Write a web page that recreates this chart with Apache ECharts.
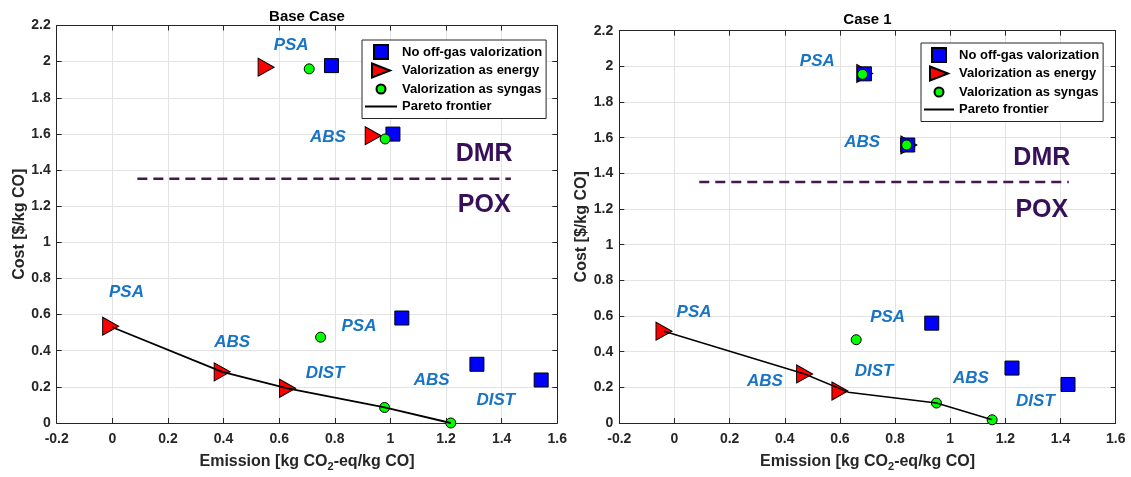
<!DOCTYPE html>
<html>
<head>
<meta charset="utf-8">
<script src="https://cdn.jsdelivr.net/npm/echarts@6/dist/echarts.min.js"></script>
<style>
html,body{margin:0;padding:0;background:#fff;}
#chart{width:1131px;height:477px;}
</style>
</head>
<body>
<div id="chart"></div>
<script>
// ---- axis ranges / ticks ----
const X_AXIS = [-0.2, 1.6, 0.2];   // min, max, interval
const Y_AXIS = [0, 2.2, 0.2];

// ---- Base Case ----
const baseNoOffgas = [[0.788,1.978],[1.009,1.599],[1.041,0.581],[1.311,0.325],[1.542,0.238]];
const baseEnergy   = [[0.553,1.969],[0.938,1.590],[-0.006,0.536],[0.395,0.283],[0.630,0.192]];
const baseSyngas   = [[0.708,1.960],[0.981,1.572],[0.749,0.475],[0.979,0.086],[1.217,0.000]];
const basePareto   = [[0.000,0.530],[0.395,0.283],[0.630,0.192],[0.979,0.086],[1.217,0.000]];
const baseLabels   = [['PSA',0.643,2.088],['ABS',0.775,1.581],['PSA',0.051,0.722],['ABS',0.431,0.444],
                      ['DIST',0.765,0.274],['PSA',0.887,0.534],['ABS',1.148,0.238],['DIST',1.379,0.128]];
const baseDivider  = [[0.09,1.352],[1.433,1.352]];
const baseRegions  = [['DMR',1.337,1.489],['POX',1.337,1.206]];

// ---- Case 1 ----
const c1NoOffgas = [[0.689,1.958],[0.846,1.559],[0.933,0.560],[1.224,0.308],[1.427,0.216]];
const c1Energy   = [[0.690,1.960],[0.850,1.559],[-0.038,0.515],[0.472,0.275],[0.600,0.179]];
const c1Syngas   = [[0.682,1.955],[0.842,1.559],[0.659,0.467],[0.950,0.112],[1.152,0.018]];
const c1Pareto   = [[-0.038,0.515],[0.472,0.275],[0.630,0.173],[0.950,0.112],[1.152,0.018]];
const c1Labels   = [['PSA',0.518,2.027],['ABS',0.681,1.574],['PSA',0.071,0.623],['ABS',0.328,0.234],
                    ['DIST',0.724,0.289],['PSA',0.773,0.592],['ABS',1.075,0.253],['DIST',1.309,0.119]];
const c1Divider  = [[0.09,1.352],[1.430,1.352]];
const c1Regions  = [['DMR',1.332,1.484],['POX',1.332,1.196]];

const titles = ['Base Case', 'Case 1'];
const names = ['No off-gas valorization','Valorization as energy','Valorization as syngas','Pareto frontier'];

const FONT = 'Liberation Sans, Arial, sans-serif';
const AX = '#262626';
const TRI = 'path://M0,0L1,0.5L0,1Z';
const SQ_LEG = 'path://M0,0L14,0L14,14L0,14Z';
const TRI_LEG = 'path://M0,0L18,7L0,14Z';
const CIRC_LEG = 'path://M0,0M14,14M7,2.5A4.5,4.5,0,1,1,7,11.5A4.5,4.5,0,1,1,7,2.5Z';

const grids = [
  {left:56.7, top:25.5, width:500.6, height:402.8},
  {left:619.3, top:30.7, width:496.4, height:398.3}
];

function xAxes(gi){
  const common = {gridIndex:gi, type:'value', min:X_AXIS[0], max:X_AXIS[1], interval:X_AXIS[2]};
  return [
    Object.assign({}, common, {position:'bottom',
      axisLine:{show:true, onZero:false, lineStyle:{color:AX,width:1}},
      axisTick:{show:true, inside:true, length:5, lineStyle:{color:AX}},
      axisLabel:{show:true, margin:9, color:AX, fontFamily:FONT, fontWeight:'bold', fontSize:14},
      splitLine:{show:true, lineStyle:{color:'#e3e3e3', width:1}},
      name:'Emission [kg CO{sub|2}-eq/kg CO]', nameLocation:'middle', nameGap:28,
      nameTextStyle:{color:AX, fontFamily:FONT, fontWeight:'bold', fontSize:16,
        rich:{sub:{fontSize:11, fontWeight:'bold', fontFamily:FONT, color:AX, padding:[10,0,0,0]}}}
    }),
    Object.assign({}, common, {position:'top',
      axisLine:{show:true, onZero:false, lineStyle:{color:AX,width:1}},
      axisTick:{show:true, inside:true, length:5, lineStyle:{color:AX}},
      axisLabel:{show:false}, splitLine:{show:false}})
  ];
}
function yAxes(gi){
  const common = {gridIndex:gi, type:'value', min:Y_AXIS[0], max:Y_AXIS[1], interval:Y_AXIS[2]};
  return [
    Object.assign({}, common, {position:'left',
      axisLine:{show:true, onZero:false, lineStyle:{color:AX,width:1}},
      axisTick:{show:true, inside:true, length:5, lineStyle:{color:AX}},
      axisLabel:{show:true, margin:6, color:AX, fontFamily:FONT, fontWeight:'bold', fontSize:14},
      splitLine:{show:true, lineStyle:{color:'#e3e3e3', width:1}},
      name:'Cost [$/kg CO]', nameLocation:'middle', nameGap:29, nameRotate:90,
      nameTextStyle:{color:AX, fontFamily:FONT, fontWeight:'bold', fontSize:16}
    }),
    Object.assign({}, common, {position:'right',
      axisLine:{show:true, onZero:false, lineStyle:{color:AX,width:1}},
      axisTick:{show:true, inside:true, length:5, lineStyle:{color:AX}},
      axisLabel:{show:false}, splitLine:{show:false}})
  ];
}

function textSeries(xi, yi, items, style){
  return {type:'scatter', xAxisIndex:xi, yAxisIndex:yi, silent:true, z:7, symbolSize:1,
    itemStyle:{color:'rgba(0,0,0,0)', opacity:1},
    emphasis:{disabled:true},
    data:items.map(d=>({name:d[0], value:[d[1],d[2]]})),
    label:Object.assign({show:true, position:'inside', formatter:'{b}', fontFamily:FONT,
      fontWeight:'bold', textBorderWidth:0, opacity:1}, style)};
}

function chartSeries(gi, noOff, energy, syngas, pareto, labels, divider, regions, lineW){
  const xi = gi*2, yi = gi*2;
  return [
    {type:'line', xAxisIndex:xi, yAxisIndex:yi, data:divider, symbol:'none', silent:true, z:2,
     lineStyle:{color:'#45184f', width:2.5, type:[10,6]}},
    {name:names[1], type:'scatter', xAxisIndex:xi, yAxisIndex:yi, data:energy, symbol:TRI, symbolSize:[16,18], z:3,
     itemStyle:{color:'#ff0000', borderColor:'#000', borderWidth:1, opacity:1}},
    {name:names[0], type:'scatter', xAxisIndex:xi, yAxisIndex:yi, data:noOff, symbol:'rect', symbolSize:14, z:4,
     itemStyle:{color:'#0000ff', borderColor:'#000', borderWidth:1, opacity:1}},
    {name:names[2], type:'scatter', xAxisIndex:xi, yAxisIndex:yi, data:syngas, symbol:'circle', symbolSize:10, z:5,
     itemStyle:{color:'#00ff00', borderColor:'#000', borderWidth:1, opacity:1}},
    {name:names[3], type:'line', xAxisIndex:xi, yAxisIndex:yi, data:pareto, symbol:'none', showSymbol:false, z:6,
     lineStyle:{color:'#000', width:lineW}, itemStyle:{color:'#000'}},
    textSeries(xi, yi, labels, {color:'#1874c4', fontStyle:'italic', fontSize:17}),
    textSeries(xi, yi, regions, {color:'#37105a', fontSize:25})
  ];
}

function legendFor(left, top, itemW){
  return {
    orient:'vertical', left:left, top:top, itemWidth:itemW, itemHeight:14, itemGap:2.5,
    padding:[4,4,5,3], backgroundColor:'#fff', borderColor:AX, borderWidth:1, borderRadius:0,
    selectedMode:false,
    textStyle:{color:'#000', fontFamily:FONT, fontWeight:'bold', fontSize:13, lineHeight:14},
    data:[
      {name:names[0], icon:SQ_LEG},
      {name:names[1], icon:TRI_LEG},
      {name:names[2], icon:CIRC_LEG},
      {name:names[3], icon:'path://M0,0L' + itemW + ',0L' + itemW + ',2L0,2Z',
       itemStyle:{color:'#000', borderWidth:0}}
    ]
  };
}

const option = {
  animation:false,
  backgroundColor:'#fff',
  grid:grids.map(g=>Object.assign({containLabel:false, show:false}, g)),
  xAxis:[...xAxes(0), ...xAxes(1)],
  yAxis:[...yAxes(0), ...yAxes(1)],
  legend:[legendFor(362, 40, 32), legendFor(921, 43, 30)],
  graphic:[
    {type:'text', x:307, y:17, style:{text:titles[0], align:'center', verticalAlign:'middle', textAlign:'center', textVerticalAlign:'middle', font:'bold 15px ' + FONT, fill:'#000'}},
    {type:'text', x:867.5, y:20, style:{text:titles[1], align:'center', verticalAlign:'middle', textAlign:'center', textVerticalAlign:'middle', font:'bold 15px ' + FONT, fill:'#000'}}
  ],
  series:[
    ...chartSeries(0, baseNoOffgas, baseEnergy, baseSyngas, basePareto, baseLabels, baseDivider, baseRegions, 1.8),
    ...chartSeries(1, c1NoOffgas, c1Energy, c1Syngas, c1Pareto, c1Labels, c1Divider, c1Regions, 1.5)
  ]
};

const chart = echarts.init(document.getElementById('chart'), null, {renderer:'canvas'});
chart.setOption(option);
</script>
</body>
</html>
